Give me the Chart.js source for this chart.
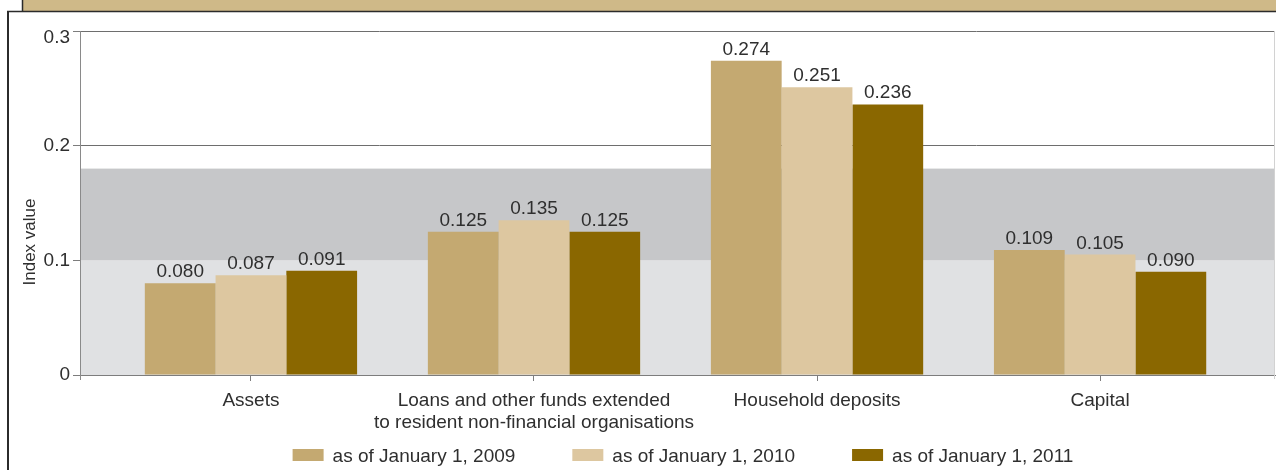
<!DOCTYPE html>
<html>
<head>
<meta charset="utf-8">
<script src="https://cdn.jsdelivr.net/npm/chart.js@4/dist/chart.umd.min.js"></script>
<style>
  html, body { margin: 0; padding: 0; background: #ffffff; }
  #wrap { position: relative; width: 1276px; height: 470px; }
  canvas { display: block; }
</style>
</head>
<body>
<div id="wrap"><canvas id="chart" width="1276" height="470"></canvas></div>
<script>
// Categories (multi-line labels are arrays of lines)
const categories = [
  'Assets',
  ['Loans and other funds extended', 'to resident non-financial organisations'],
  'Household deposits',
  'Capital'
];
const seriesNames = ['as of January 1, 2009', 'as of January 1, 2010', 'as of January 1, 2011'];
const values2009 = [0.080, 0.125, 0.274, 0.109];
const values2010 = [0.087, 0.135, 0.251, 0.105];
const values2011 = [0.091, 0.125, 0.236, 0.090];
const seriesColors = ['#c4a971', '#ddc7a0', '#8a6700'];
const yTickValues = [0, 0.1, 0.2, 0.3];
// Shaded threshold zones on the value axis
const zoneLow = [0, 0.1];
const zoneHigh = [0.1, 0.18];
const yTitle = 'Index value';

const FONT = '"Liberation Sans", Arial, Helvetica, sans-serif';
const TEXT = '#2f2f2f';
const yLabel = v => (v === 0 ? '0' : v.toFixed(1));
const yTop = yTickValues[yTickValues.length - 1];

const toPoints = vals => vals.map((v, i) => ({ x: i, y: v }));

// Background zones drawn before the axes so grid lines sit above them
const zonesPlugin = {
  id: 'zones',
  beforeDraw(chart) {
    const { ctx, chartArea: a, scales: { y } } = chart;
    ctx.save();
    ctx.fillStyle = '#e0e1e3';
    let t = y.getPixelForValue(zoneLow[1]), b = y.getPixelForValue(zoneLow[0]);
    ctx.fillRect(a.left + 1, t, a.right - a.left - 1, b - t);
    ctx.fillStyle = '#c6c7c9';
    t = y.getPixelForValue(zoneHigh[1]); b = y.getPixelForValue(zoneHigh[0]);
    ctx.fillRect(a.left + 1, t, a.right - a.left - 1, b - t);
    ctx.restore();
  }
};

// Value labels above each bar
const valueLabels = {
  id: 'valueLabels',
  afterDatasetsDraw(chart) {
    const { ctx } = chart;
    ctx.save();
    ctx.font = '19px ' + FONT;
    ctx.fillStyle = TEXT;
    ctx.textAlign = 'center';
    ctx.textBaseline = 'alphabetic';
    chart.data.datasets.forEach((ds, di) => {
      chart.getDatasetMeta(di).data.forEach((bar, i) => {
        ctx.fillText(ds.data[i].y.toFixed(3), bar.x, bar.y - 6);
      });
    });
    ctx.restore();
  }
};

// Frame, header strip, axis title, plot edges and legend
const decorations = {
  id: 'decorations',
  afterDraw(chart) {
    const { ctx, chartArea: a, scales: { y } } = chart;
    ctx.save();
    // header strip
    ctx.fillStyle = '#cfb988';
    ctx.fillRect(22, 0, 1254, 11);
    ctx.strokeStyle = '#2b2b2b';
    ctx.lineWidth = 1.5;
    ctx.beginPath();
    ctx.moveTo(22.5, 0); ctx.lineTo(22.5, 11);
    ctx.moveTo(7, 11.5); ctx.lineTo(1276, 11.5);
    ctx.stroke();
    ctx.lineWidth = 2;
    ctx.beginPath();
    ctx.moveTo(8, 11); ctx.lineTo(8, 470);
    ctx.stroke();

    // value axis extends slightly below the baseline
    ctx.strokeStyle = '#8a8a8a';
    ctx.lineWidth = 1;
    ctx.beginPath();
    ctx.moveTo(a.left + 0.5, a.bottom); ctx.lineTo(a.left + 0.5, a.bottom + 5);
    ctx.stroke();

    // right edge of the plot
    ctx.strokeStyle = '#d2d2d2';
    ctx.beginPath();
    ctx.moveTo(a.right - 0.5, a.top); ctx.lineTo(a.right - 0.5, a.bottom + 4);
    ctx.stroke();

    // top value label sits just below its tick, inside the frame
    ctx.fillStyle = TEXT;
    ctx.font = '19px ' + FONT;
    ctx.textAlign = 'right';
    ctx.textBaseline = 'middle';
    ctx.fillText(yLabel(yTop), a.left - 10, y.getPixelForValue(yTop) + 7);

    // y axis title
    ctx.font = '17px ' + FONT;
    ctx.translate(30, 242);
    ctx.rotate(-Math.PI / 2);
    ctx.textAlign = 'center';
    ctx.fillText(yTitle, 0, 0);
    ctx.setTransform(1, 0, 0, 1, 0, 0);

    // legend
    ctx.font = '19px ' + FONT;
    const boxW = 31, boxH = 12, gapText = 9, gapItem = 57;
    const items = chart.data.datasets.map(ds => ({
      text: ds.label, color: ds.backgroundColor, w: ctx.measureText(ds.label).width
    }));
    const total = items.reduce((s, it) => s + boxW + gapText + it.w, 0) + gapItem * (items.length - 1);
    let x = 683 - total / 2;
    const cy = 456;
    ctx.textAlign = 'left';
    ctx.textBaseline = 'middle';
    items.forEach(it => {
      ctx.fillStyle = it.color;
      ctx.fillRect(x, cy - boxH / 2 - 1, boxW, boxH);
      ctx.fillStyle = TEXT;
      ctx.fillText(it.text, x + boxW + gapText, cy + 1);
      x += boxW + gapText + it.w + gapItem;
    });
    ctx.restore();
  }
};

new Chart(document.getElementById('chart'), {
  type: 'bar',
  data: {
    datasets: [values2009, values2010, values2011].map((vals, i) => ({
      label: seriesNames[i],
      data: toPoints(vals),
      backgroundColor: seriesColors[i],
      borderWidth: 0,
      categoryPercentage: 0.75,
      barPercentage: 1.0
    }))
  },
  options: {
    responsive: false,
    animation: false,
    devicePixelRatio: 1,
    layout: { padding: { left: 0, right: 1, top: 31, bottom: 0 } },
    plugins: {
      legend: { display: false },
      tooltip: { enabled: false }
    },
    scales: {
      x: {
        type: 'linear',
        bounds: 'data',
        min: -0.604,
        max: 3.618,
        offset: false,
        afterBuildTicks: s => {
          s.ticks = categories.map((c, i) => ({ value: i }));
        },
        afterFit: s => { s.height = 95; },
        ticks: {
          autoSkip: false,
          maxRotation: 0,
          padding: 8,
          color: TEXT,
          font: { family: FONT, size: 19 },
          callback: v => (Number.isInteger(v) && v >= 0 && v < categories.length) ? categories[v] : ''
        },
        grid: { offset: false, drawOnChartArea: false, tickLength: 6, color: '#7d7d7d' },
        border: { color: '#7d7d7d', width: 1 }
      },
      y: {
        type: 'linear',
        min: 0,
        max: 0.3,
        afterBuildTicks: s => { s.ticks = yTickValues.map(v => ({ value: v })); },
        afterFit: s => { s.width = 80; },
        ticks: {
          padding: 3,
          color: TEXT,
          font: { family: FONT, size: 19 },
          callback: v => (v === yTop ? '' : yLabel(v))
        },
        grid: {
          tickLength: 7,
          color: c => (c.tick && Math.abs(c.tick.value - 0.1) < 1e-9) ? 'rgba(0,0,0,0)' : '#6e6e6e',
          tickColor: '#7d7d7d'
        },
        border: { color: '#8a8a8a', width: 1 }
      }
    }
  },
  plugins: [zonesPlugin, valueLabels, decorations]
});
</script>
</body>
</html>
